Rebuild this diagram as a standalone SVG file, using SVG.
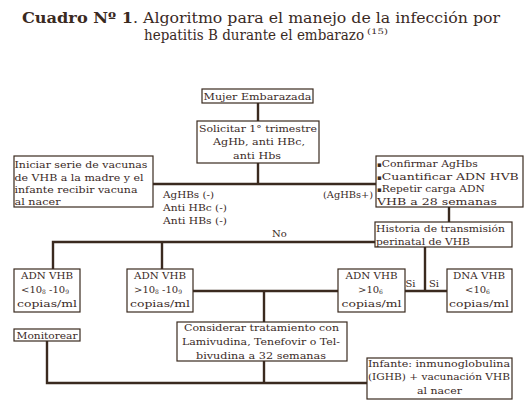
<svg xmlns="http://www.w3.org/2000/svg" width="526" height="420" viewBox="0 0 526 420">
<style>
text{font-family:"DejaVu Serif","Liberation Serif",serif;font-size:10px;fill:#3a2a1f}
.c{text-anchor:middle}
.box{fill:#fff;stroke:#3a2a1f;stroke-width:1.2}
.ln{fill:none;stroke:#3a2a1f;stroke-width:2.4}
.t{font-size:14px}
.sub{font-size:6px}
.b{font-size:7px}
</style>
<rect width="526" height="420" fill="#fff"/>
<g id="title">
<text class="t" x="22" y="23" font-weight="bold" textLength="111" lengthAdjust="spacingAndGlyphs">Cuadro Nº 1</text>
<text class="t" x="133" y="23" textLength="367" lengthAdjust="spacingAndGlyphs">. Algoritmo para el manejo de la infección por</text>
<text class="t" transform="translate(144 40) scale(0.88 1)" textLength="250" lengthAdjust="spacingAndGlyphs">hepatitis B durante el embarazo</text>
<text x="367" y="34" style="font-size:7.5px" textLength="21" lengthAdjust="spacingAndGlyphs">(15)</text>
</g>
<g id="connectors">
<path class="ln" d="M258 103V121"/>
<path class="ln" d="M258 163V184"/>
<path class="ln" d="M153 184H376"/>
<path class="ln" d="M449 207V222"/>
<path class="ln" d="M375 242H53V269M162 242V269"/>
<path class="ln" d="M425 247V291"/>
<path class="ln" d="M405 291H447"/>
<path class="ln" d="M193 291H338"/>
<path class="ln" d="M264 291V322"/>
<path class="ln" d="M47 341V383H367"/>
<path class="ln" d="M264 361V383"/>
</g>
<g id="labels">
<text x="163" y="198" textLength="51" lengthAdjust="spacingAndGlyphs">AgHBs (-)</text>
<text x="163" y="211" textLength="64" lengthAdjust="spacingAndGlyphs">Anti HBc (-)</text>
<text x="163" y="224" textLength="64" lengthAdjust="spacingAndGlyphs">Anti HBs (-)</text>
<text x="323" y="198" textLength="50" lengthAdjust="spacingAndGlyphs">(AgHBs+)</text>
<text class="c" x="279.5" y="237">No</text>
<text class="c" x="410.5" y="286.5">Si</text>
<text class="c" x="434" y="286.5">Si</text>
</g>
<g id="mujer">
<rect class="box" x="202" y="89" width="111" height="14"/>
<text x="203.5" y="100" textLength="108" lengthAdjust="spacingAndGlyphs">Mujer Embarazada</text>
</g>
<g id="solicitar">
<rect class="box" x="197" y="121" width="122" height="42"/>
<text x="199" y="131.5" textLength="118" lengthAdjust="spacingAndGlyphs">Solicitar 1° trimestre</text>
<text x="213" y="145" textLength="92" lengthAdjust="spacingAndGlyphs">AgHb, anti HBc,</text>
<text x="233" y="158.5" textLength="48" lengthAdjust="spacingAndGlyphs">anti Hbs</text>
</g>
<g id="iniciar">
<rect class="box" x="14" y="156" width="139" height="51"/>
<text x="14.5" y="168" textLength="133" lengthAdjust="spacingAndGlyphs">Iniciar serie de vacunas</text>
<text x="14.5" y="180.5" textLength="129" lengthAdjust="spacingAndGlyphs">de VHB a la madre y el</text>
<text x="14.5" y="193" textLength="123" lengthAdjust="spacingAndGlyphs">infante recibir vacuna</text>
<text x="14.5" y="205" textLength="46" lengthAdjust="spacingAndGlyphs">al nacer</text>
</g>
<g id="confirmar">
<rect class="box" x="376" y="156" width="147" height="51"/>
<text x="377" y="167"><tspan class="b">▪</tspan><tspan textLength="96" lengthAdjust="spacingAndGlyphs">Confirmar AgHbs</tspan></text>
<text x="377" y="179.5"><tspan class="b">▪</tspan><tspan textLength="137" lengthAdjust="spacingAndGlyphs">Cuantificar ADN HVB</tspan></text>
<text x="377" y="192"><tspan class="b">▪</tspan><tspan textLength="103" lengthAdjust="spacingAndGlyphs">Repetir carga ADN</tspan></text>
<text x="377" y="205" textLength="120" lengthAdjust="spacingAndGlyphs">VHB a 28 semanas</text>
</g>
<g id="historia">
<rect class="box" x="375" y="222" width="137" height="25"/>
<text x="376" y="232" textLength="129" lengthAdjust="spacingAndGlyphs">Historia de transmisión</text>
<text x="376" y="244.5" textLength="94" lengthAdjust="spacingAndGlyphs">perinatal de VHB</text>
</g>
<g id="adn1">
<rect class="box" x="14" y="269" width="66" height="43"/>
<text x="21" y="279" textLength="52" lengthAdjust="spacingAndGlyphs">ADN VHB</text>
<text x="21" y="293">&lt;10<tspan class="sub" dy="1">8</tspan><tspan dy="-1"> -10</tspan><tspan class="sub" dy="1">9</tspan></text>
<text x="17" y="307" textLength="60" lengthAdjust="spacingAndGlyphs">copias/ml</text>
</g>
<g id="adn2">
<rect class="box" x="127" y="269" width="66" height="43"/>
<text x="134" y="279" textLength="52" lengthAdjust="spacingAndGlyphs">ADN VHB</text>
<text x="134" y="293">&gt;10<tspan class="sub" dy="1">8</tspan><tspan dy="-1"> -10</tspan><tspan class="sub" dy="1">9</tspan></text>
<text x="130" y="307" textLength="60" lengthAdjust="spacingAndGlyphs">copias/ml</text>
</g>
<g id="adn3">
<rect class="box" x="338" y="269" width="67" height="43"/>
<text x="345.5" y="279" textLength="52" lengthAdjust="spacingAndGlyphs">ADN VHB</text>
<text x="358" y="293">&gt;10<tspan class="sub" dy="1">6</tspan></text>
<text x="341.5" y="307" textLength="60" lengthAdjust="spacingAndGlyphs">copias/ml</text>
</g>
<g id="dna4">
<rect class="box" x="447" y="269" width="65" height="43"/>
<text x="453" y="279" textLength="52" lengthAdjust="spacingAndGlyphs">DNA VHB</text>
<text x="465" y="293">&lt;10<tspan class="sub" dy="1">6</tspan></text>
<text x="449" y="307" textLength="60" lengthAdjust="spacingAndGlyphs">copias/ml</text>
</g>
<g id="monitorear">
<rect class="box" x="14" y="329" width="66" height="12"/>
<text x="16.5" y="339" textLength="61" lengthAdjust="spacingAndGlyphs">Monitorear</text>
</g>
<g id="considerar">
<rect class="box" x="177" y="322" width="170" height="39"/>
<text x="184" y="330.5" textLength="155" lengthAdjust="spacingAndGlyphs">Considerar tratamiento con</text>
<text x="182" y="344.5" textLength="158" lengthAdjust="spacingAndGlyphs">Lamivudina, Tenefovir o Tel-</text>
<text x="196" y="358.5" textLength="130" lengthAdjust="spacingAndGlyphs">bivudina a 32 semanas</text>
</g>
<g id="infante">
<rect class="box" x="367" y="358" width="145" height="41"/>
<text x="368" y="366.5" textLength="142" lengthAdjust="spacingAndGlyphs">Infante: inmunoglobulina</text>
<text x="368" y="380" textLength="142" lengthAdjust="spacingAndGlyphs">(IGHB) + vacunación VHB</text>
<text x="417" y="394" textLength="45" lengthAdjust="spacingAndGlyphs">al nacer</text>
</g>
</svg>
